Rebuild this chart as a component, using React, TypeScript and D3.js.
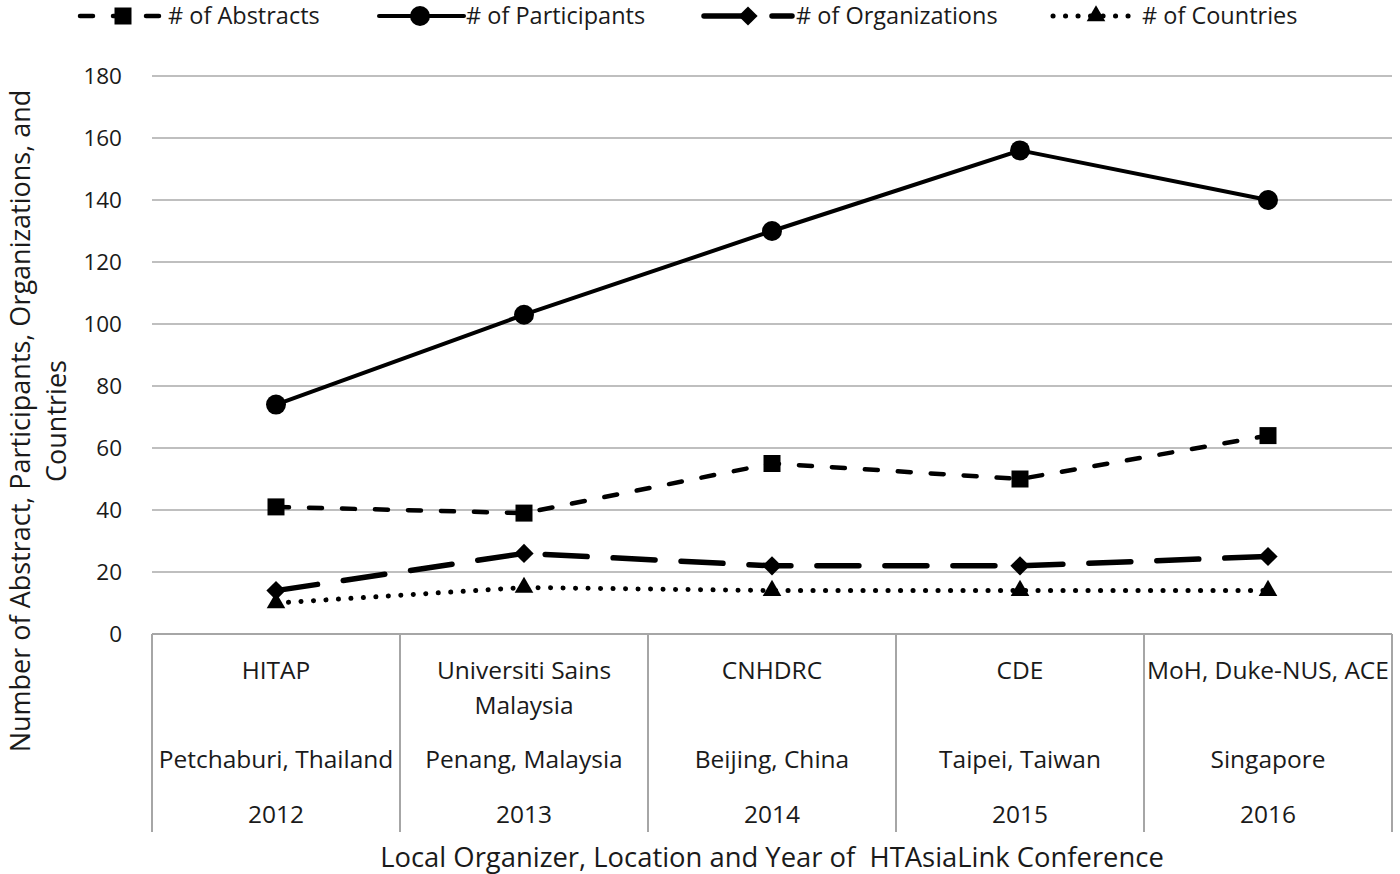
import { line, scaleBand, scaleLinear, symbol, symbolCircle, symbolSquare, symbolTriangle } from 'd3';

// data
const years = ['2012', '2013', '2014', '2015', '2016'];
const organizers = [['HITAP'], ['Universiti Sains', 'Malaysia'], ['CNHDRC'], ['CDE'], ['MoH, Duke-NUS, ACE']];
const locations = ['Petchaburi, Thailand', 'Penang, Malaysia', 'Beijing, China', 'Taipei, Taiwan', 'Singapore'];
const abstracts = [41, 39, 55, 50, 64];
const participants = [74, 103, 130, 156, 140];
const organizations = [14, 26, 22, 22, 25];
const countries = [10, 15, 14, 14, 14];

const FONT = '"Open Sans", Lato, sans-serif';
const GRID = '#bfbfbf';
const AXIS = '#a6a6a6';
const INK = '#1a1a1a';

type Marker = 'square' | 'circle' | 'diamond' | 'triangle';

const series: {
  name: string;
  values: number[];
  width: number;
  dash: string | undefined;
  marker: Marker;
  legend: [number, number, number, number]; // line start, line end, marker x, text x
}[] = [
  { name: '# of Abstracts', values: abstracts, width: 4.5, dash: '13 20', marker: 'square', legend: [80, 165, 123, 168] },
  { name: '# of Participants', values: participants, width: 4, dash: undefined, marker: 'circle', legend: [379, 464, 420, 466] },
  { name: '# of Organizations', values: organizations, width: 5.5, dash: '42 26', marker: 'diamond', legend: [704, 792, 748, 796] },
  { name: '# of Countries', values: countries, width: 5, dash: '0.1 12.4', marker: 'triangle', legend: [1053, 1133, 1096, 1142] },
];

const markerPath = (m: Marker) => {
  if (m === 'circle') return symbol(symbolCircle, 314)()!;
  if (m === 'triangle') return symbol(symbolTriangle, 150)()!;
  return symbol(symbolSquare, m === 'square' ? 289 : 185)()!;
};

function MarkerShape({ m, x, y }: { m: Marker; x: number; y: number }) {
  const rot = m === 'diamond' ? ' rotate(45)' : '';
  return <path d={markerPath(m)} transform={`translate(${x},${y})${rot}`} fill="#000" />;
}

export default function App() {
  const width = 1400,
    height = 874;
  const left = 152,
    right = 1392,
    top = 76,
    base = 634,
    tableBottom = 832;
  const legendY = 16;

  const x = scaleBand<string>().domain(years).range([left, right]);
  const y = scaleLinear().domain([0, 180]).range([base, top]);
  const cx = (i: number) => x(years[i])! + x.bandwidth() / 2;

  const gen = line<number>()
    .x((_, i) => cx(i))
    .y((d) => y(d));

  const boundaries = years.map((yr) => x(yr)!).concat([right]);

  return (
    <div style={{ position: 'absolute', left: 0, top: 0 }}>
      <svg width={width} height={height} style={{ display: 'block', background: '#fff' }} fontFamily={FONT}>
        {/* gridlines */}
        {y.ticks(9).map((t) => (
          <g key={t}>
            {t > 0 && <line x1={left} x2={right} y1={y(t)} y2={y(t)} stroke={GRID} strokeWidth={2} />}
            <text x={122} y={y(t)} dy="0.36em" textAnchor="end" fontSize={22.5} fill={INK}>
              {t}
            </text>
          </g>
        ))}

        {/* category table */}
        <line x1={left} x2={right} y1={base} y2={base} stroke={AXIS} strokeWidth={2} />
        {boundaries.map((b, i) => (
          <line key={i} x1={b} x2={b} y1={base} y2={tableBottom} stroke={AXIS} strokeWidth={2} />
        ))}
        {years.map((yr, i) => (
          <g key={yr} fontSize={24.5} fill={INK} textAnchor="middle">
            {organizers[i].map((t, j) => (
              <text key={j} x={cx(i)} y={670 + j * 35} dy="0.36em">
                {t}
              </text>
            ))}
            <text x={cx(i)} y={759} dy="0.36em">
              {locations[i]}
            </text>
            <text x={cx(i)} y={814} dy="0.36em">
              {yr}
            </text>
          </g>
        ))}

        {/* series */}
        {series.map((s) => (
          <g key={s.name}>
            <path
              d={gen(s.values)!}
              fill="none"
              stroke="#000"
              strokeWidth={s.width}
              strokeDasharray={s.dash}
              strokeLinecap="round"
              strokeLinejoin="round"
            />
            {s.values.map((v, i) => (
              <MarkerShape key={i} m={s.marker} x={cx(i)} y={y(v)} />
            ))}
          </g>
        ))}

        {/* legend */}
        {series.map((s) => (
          <g key={s.name}>
            <line
              x1={s.legend[0]}
              x2={s.legend[1]}
              y1={legendY}
              y2={legendY}
              stroke="#000"
              strokeWidth={s.width}
              strokeDasharray={s.dash}
              strokeLinecap="round"
            />
            <MarkerShape m={s.marker} x={s.legend[2]} y={legendY} />
            <text x={s.legend[3]} y={legendY} dy="0.36em" fontSize={23.5} fill={INK}>
              {s.name}
            </text>
          </g>
        ))}

        {/* axis titles */}
        <text x={772} y={857} dy="0.36em" textAnchor="middle" fontSize={27.4} fill={INK} style={{ whiteSpace: 'pre' }}>
          Local Organizer, Location and Year of  HTAsiaLink Conference
        </text>
        <g fontSize={27} fill={INK} textAnchor="middle">
          <text transform="translate(30,421) rotate(-90)">Number of Abstract, Participants, Organizations, and</text>
          <text transform="translate(66,421) rotate(-90)">Countries</text>
        </g>
      </svg>
    </div>
  );
}
